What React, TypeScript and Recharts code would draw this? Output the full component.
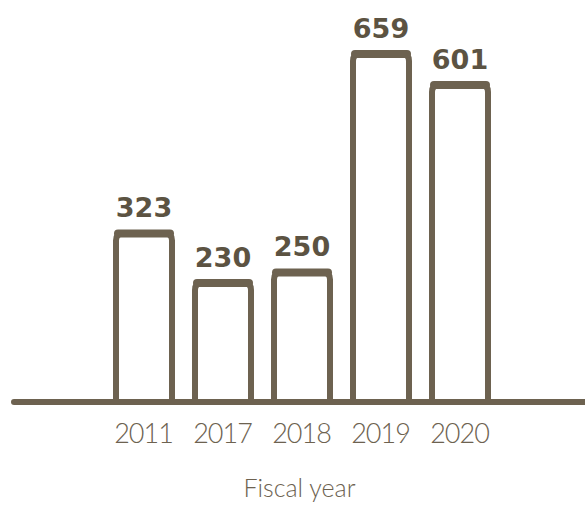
import { BarChart, Bar, XAxis, YAxis, LabelList } from 'recharts';

const years = ['2011', '2017', '2018', '2019', '2020'];
const counts = [323, 230, 250, 659, 601];

const ink = '#6d6250';
const labelInk = '#5c5342';

const data = years.map((year, i) => ({ year, count: counts[i] }));

// hand-drawn looking bar: open bottom, rounded top corners
const SketchBar = (props: any) => {
  const { x, y, width, height } = props;
  if (height <= 0) return null;
  const sw = 6;
  const l = x + sw / 2;
  const r = x + width - sw / 2;
  const t = y + 4;
  const b = y + height - 3;
  const rad = 7;
  const d = `M${l},${b} L${l},${t + rad} Q${l},${t} ${l + rad},${t} L${r - rad},${t} Q${r},${t} ${r},${t + rad} L${r},${b}`;
  return (
    <g>
      <rect x={l} y={t} width={r - l} height={b - t} fill="#fff" />
      <path d={d} fill="none" stroke={ink} strokeWidth={sw} strokeLinejoin="round" strokeLinecap="round" />
      <line x1={l + 2} y1={t} x2={r - 2} y2={t} stroke={ink} strokeWidth={8} strokeLinecap="round" />
    </g>
  );
};

export default function App() {
  return (
    <div style={{ position: 'absolute', left: 0, top: 0, background: '#fff' }}>
      <BarChart
        width={585}
        height={507}
        data={data}
        margin={{ top: 28, right: 0, bottom: 0, left: 14 }}
      >
        <YAxis hide domain={[0, 700]} />
        <XAxis
          dataKey="year"
          height={105}
          padding={{ left: 90, right: 86 }}
          axisLine={{ stroke: ink, strokeWidth: 6, strokeLinecap: 'round' }}
          tickLine={false}
          tickSize={8}
          tickMargin={14}
          tick={{ fill: ink, fontSize: 27, fontFamily: 'Lato', fontWeight: 300, letterSpacing: -1 }}
          label={{
            value: 'Fiscal year',
            position: 'insideBottom',
            offset: 10,
            fill: ink,
            fontSize: 25,
            fontFamily: 'Lato',
            fontWeight: 300,
          }}
        />
        <Bar dataKey="count" barSize={62} shape={<SketchBar />} isAnimationActive={false}>
          <LabelList
            dataKey="count"
            position="top"
            offset={12}
            fill={labelInk}
            fontSize={27}
            fontWeight="bold"
            fontFamily="DejaVu Sans"
          />
        </Bar>
      </BarChart>
    </div>
  );
}
